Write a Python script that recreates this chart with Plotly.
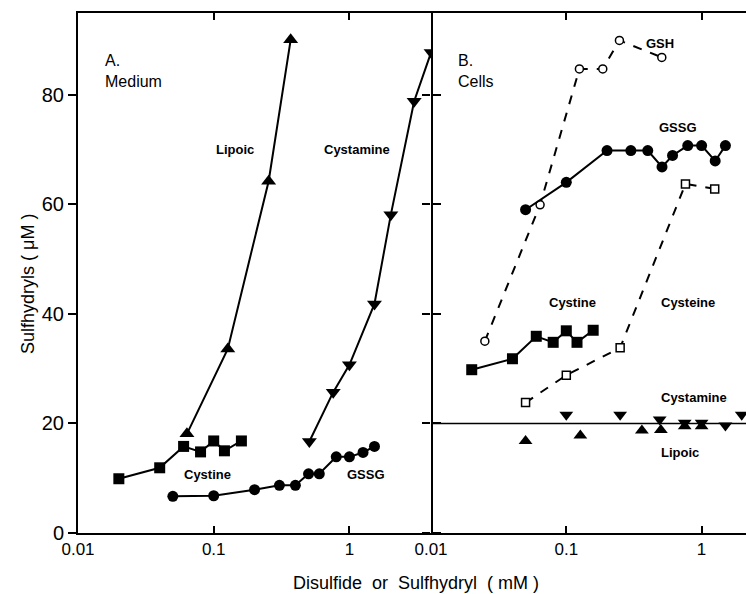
import plotly.graph_objects as go

# ---- Panel A: Medium ----
a_lipoic_x = [0.0635, 0.127, 0.254, 0.369]
a_lipoic_y = [18.1, 33.6, 64.2, 90.0]
a_cystamine_x = [0.507, 0.76, 1.0, 1.53, 2.02, 3.0, 4.0]
a_cystamine_y = [16.7, 25.7, 30.7, 41.8, 58.1, 78.8, 87.7]
a_cystine_x = [0.02, 0.04, 0.06, 0.08, 0.10, 0.12, 0.16]
a_cystine_y = [9.9, 11.9, 15.8, 14.8, 16.8, 15.0, 16.8]
a_gssg_x = [0.05, 0.10, 0.2, 0.305, 0.4, 0.5, 0.6, 0.8, 1.0, 1.26, 1.53]
a_gssg_y = [6.7, 6.8, 7.9, 8.7, 8.7, 10.8, 10.8, 13.9, 13.9, 14.7, 15.8]

# ---- Panel B: Cells ----
b_gsh_x = [0.025, 0.064, 0.125, 0.186, 0.247, 0.508]
b_gsh_y = [35.0, 59.9, 84.7, 84.7, 89.9, 86.8]
b_gssg_x = [0.05, 0.10, 0.2, 0.3, 0.4, 0.51, 0.61, 0.79, 1.0, 1.26, 1.5]
b_gssg_y = [59.0, 64.0, 69.8, 69.8, 69.8, 66.8, 68.9, 70.7, 70.7, 67.9, 70.7]
b_cystine_x = [0.02, 0.04, 0.06, 0.08, 0.10, 0.12, 0.158]
b_cystine_y = [29.8, 31.8, 35.9, 34.8, 36.9, 34.8, 37.0]
b_cysteine_x = [0.05, 0.10, 0.25, 0.76, 1.25]
b_cysteine_y = [23.8, 28.8, 33.8, 63.7, 62.8]
b_cystamine_x = [0.10, 0.25, 0.49, 0.75, 1.0, 1.5, 1.98]
b_cystamine_y = [21.6, 21.6, 20.7, 20.1, 20.1, 19.6, 21.6]
b_lipoic_x = [0.05, 0.127, 0.362, 0.5, 0.75, 1.0]
b_lipoic_y = [16.8, 17.8, 18.7, 18.8, 19.5, 19.5]
b_ref_level = 20

tick_vals = [0.01, 0.1, 1]
tick_text = ["0.01", "0.1", "1"]
y_ticks = [0, 20, 40, 60, 80]

K = "black"
fig = go.Figure()

def add(x, y, xa, ya, symbol, size, dash="solid", lines=True, open_=False):
    fig.add_trace(go.Scatter(
        x=x, y=y, xaxis=xa, yaxis=ya,
        mode="lines+markers" if lines else "markers",
        line=dict(color=K, width=2, dash=dash),
        marker=dict(symbol=symbol, size=size,
                    color="white" if open_ else K,
                    line=dict(color=K, width=1.5 if open_ else 0)),
        showlegend=False, hoverinfo="skip"))

add(a_lipoic_x, a_lipoic_y, "x", "y", "triangle-up", 13)
add(a_cystamine_x, a_cystamine_y, "x", "y", "triangle-down", 13)
add(a_cystine_x, a_cystine_y, "x", "y", "square", 11)
add(a_gssg_x, a_gssg_y, "x", "y", "circle", 11)

add(b_gsh_x, b_gsh_y, "x2", "y2", "circle", 8, dash="dash", open_=True)
add(b_gssg_x, b_gssg_y, "x2", "y2", "circle", 11)
add(b_cystine_x, b_cystine_y, "x2", "y2", "square", 11)
add(b_cysteine_x, b_cysteine_y, "x2", "y2", "square", 8, dash="dash", open_=True)
add(b_cystamine_x, b_cystamine_y, "x2", "y2", "triangle-down", 12, lines=False)
add(b_lipoic_x, b_lipoic_y, "x2", "y2", "triangle-up", 12, lines=False)

fig.add_shape(type="line", xref="x2 domain", yref="y2", x0=0, x1=1,
              y0=b_ref_level, y1=b_ref_level, line=dict(color=K, width=1.5))

L, T, B = 78, 13, 61
W, H = 746, 594
PW = W - L
PH = H - T - B
split = 353 / PW

def px(x):
    return (x - L) / PW

def py(y):
    return (H - B - y) / PH

tickfont_x = dict(family="Liberation Sans", size=17, color=K)
tickfont_y = dict(family="Liberation Sans", size=20, color=K)

common_x = dict(type="log", showgrid=False, zeroline=False, showline=True,
                linecolor=K, linewidth=2, ticks="inside", ticklen=7,
                tickwidth=2, tickcolor=K, mirror="ticks",
                tickvals=tick_vals, ticktext=tick_text, tickfont=tickfont_x)

fig.update_layout(
    width=W, height=H, margin=dict(l=L, r=0, t=T, b=B),
    paper_bgcolor="white", plot_bgcolor="white",
    xaxis=dict(domain=[0, split], range=[-2, -2 + 353 / 135.7], anchor="y", **common_x),
    xaxis2=dict(domain=[split, 1], range=[-2, -2 + 315 / 135.3], anchor="y2", **common_x),
    yaxis=dict(range=[0, 94.9], anchor="x", showgrid=False, zeroline=False,
               showline=True, linecolor=K, linewidth=2, ticks="outside",
               ticklen=8, tickwidth=2, tickcolor=K, mirror="ticks",
               tickvals=y_ticks, tickfont=tickfont_y),
    yaxis2=dict(range=[0, 94.9], anchor="x2", showgrid=False, zeroline=False,
                showline=False, ticks="outside",
                ticklen=8, tickwidth=2, tickcolor=K, tickvals=y_ticks,
                showticklabels=False),
)

lab = dict(family="Liberation Sans", size=13, color=K)
big = dict(family="Liberation Sans", size=16, color=K)
title_font = dict(family="Liberation Sans", size=18, color=K)

def note(text, x, y, font=lab, xanchor="center", yanchor="middle", align="center"):
    fig.add_annotation(text=text, x=px(x), y=py(y), xref="paper", yref="paper",
                       showarrow=False, font=font, xanchor=xanchor,
                       yanchor=yanchor, align=align)

note("A.<br>Medium", 103, 50, big, "left", "top", "left")
note("B.<br>Cells", 456, 50, big, "left", "top", "left")
note("<b>Lipoic</b>", 235, 150)
note("<b>Cystamine</b>", 357, 150)
note("<b>Cystine</b>", 207, 474)
note("<b>GSSG</b>", 366, 474)
note("<b>GSH</b>", 660, 43)
note("<b>GSSG</b>", 678, 127)
note("<b>Cystine</b>", 572, 302)
note("<b>Cysteine</b>", 688, 302)
note("<b>Cystamine</b>", 694, 397)
note("<b>Lipoic</b>", 680, 452)

note("Disulfide  or  Sulfhydryl  ( mM )", 416, 583, title_font)
fig.add_annotation(text="Sulfhydryls ( μM )", x=px(16), y=py(284), xref="paper",
                   yref="paper", showarrow=False, font=title_font, textangle=-90)

fig.write_html("out.html", config={"displayModeBar": False},
               post_script="document.body.style.margin='0';")
